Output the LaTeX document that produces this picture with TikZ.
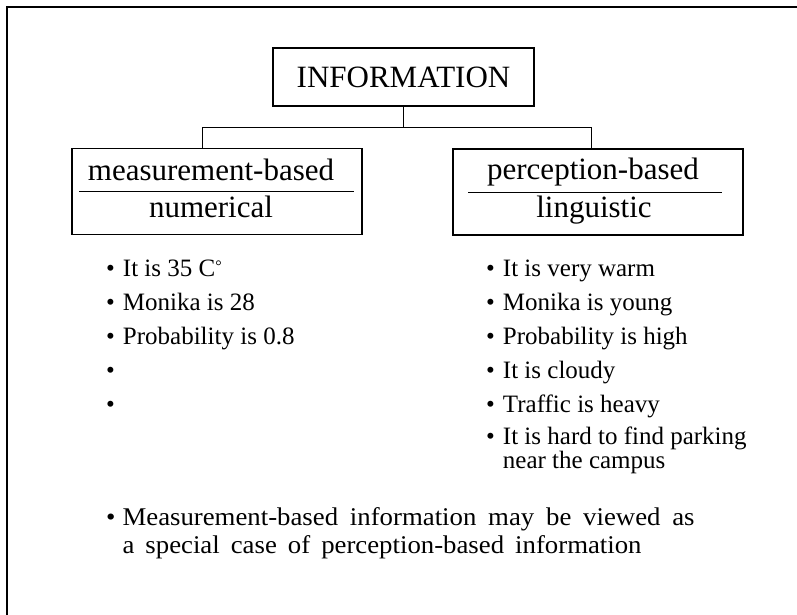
\documentclass[tikz,border=0pt]{standalone}
\usepackage{fontspec}
\setmainfont{Liberation Serif}
\newfontfamily\notefont[FakeStretch=1.05]{Liberation Serif}
\begin{document}
\begin{tikzpicture}[x=1pt,y=-1pt,
  box/.style={draw,line width=1.6pt,inner sep=0pt},
  link/.style={line width=0.9pt},
  big/.style={font=\fontsize{31}{37}\selectfont},
  lbl/.style={big,anchor=base,inner sep=0pt},
  item/.style={anchor=base west,inner sep=0pt,font=\fontsize{25}{24}\selectfont}]
\useasboundingbox (0,0) rectangle (797,615);
% frame
\draw[line width=1.3pt] (800,7) -- (7,7) -- (7,620);
% top box
\node[box,big,minimum width=261pt,minimum height=58pt] (info) at (403.5,77) {INFORMATION};
% two category boxes
\node[box,minimum width=290pt,minimum height=86pt] (L) at (217,191.5) {};
\node[box,minimum width=290pt,minimum height=86pt] (R) at (598,192) {};
\node[lbl] (Lt) at (211,180) {measurement-based};
\node[lbl] (Lb) at (211,217) {numerical};
\node[lbl] (Rt) at (593,179) {perception-based};
\node[lbl] (Rb) at (594,217) {linguistic};
\draw[link] ([xshift=8pt]L.west) -- ([xshift=-9pt]L.east);
\draw[link] ([xshift=16pt]R.west) -- ([xshift=-22pt]R.east);
% connectors
\draw[link] (info.south) -- ++(0,20.7) coordinate (j) -| ([xshift=-15pt]L.north);
\draw[link] (j) -| ([xshift=-7pt]R.north);
% left list
\node[item] (l1) at (106,276) {\textbullet\hspace{8pt}It is 35 C{\fontsize{16}{16}\selectfont\raisebox{5pt}{°}}};
\node[item] (l2) at (106,310) {\textbullet\hspace{8pt}Monika is 28};
\node[item] (l3) at (106,344) {\textbullet\hspace{8pt}Probability is 0.8};
\node[item] (l4) at (106,378) {\textbullet};
\node[item] (l5) at (106,412) {\textbullet};
% right list
\node[item] (r1) at (486,276) {\textbullet\hspace{8pt}It is very warm};
\node[item] (r2) at (486,310) {\textbullet\hspace{8pt}Monika is young};
\node[item] (r3) at (486,344) {\textbullet\hspace{8pt}Probability is high};
\node[item] (r4) at (486,378) {\textbullet\hspace{8pt}It is cloudy};
\node[item] (r5) at (486,412) {\textbullet\hspace{8pt}Traffic is heavy};
\node[item] (r6) at (486,444) {\textbullet\hspace{8pt}\begin{tabular}[t]{@{}l@{}}It is hard to find parking\\near the campus\end{tabular}};
% bottom note
\node[item,font=\notefont\fontsize{25.5}{28}\selectfont] (note) at (106,525) {\textbullet\hspace{7pt}\begin{tabular}[t]{@{}l@{}}\makebox[572pt][s]{Measurement-based information may be viewed as}\\\makebox[519pt][s]{a special case of perception-based information}\end{tabular}};
\end{tikzpicture}
\end{document}
